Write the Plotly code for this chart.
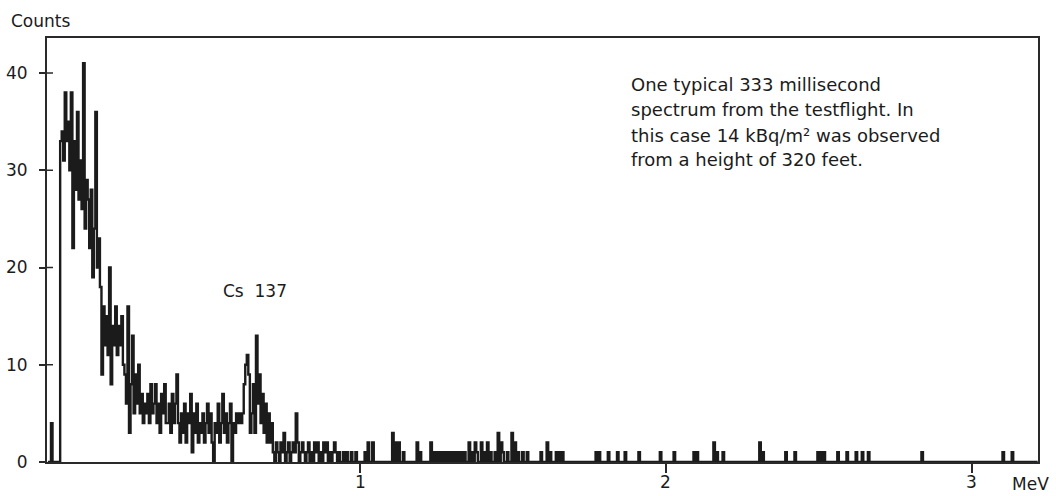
import plotly.graph_objects as go

# ---------------- data ----------------
CHANNEL_WIDTH = 0.005          # MeV per channel
START_ENERGY = -0.02           # energy of first listed channel (MeV)
END_ENERGY = 3.215

# counts per channel from -0.02 MeV up to 1.0 MeV
low_energy_counts = [
    0, 0, 4, 0,
    0, 0, 0, 0,
    33, 34, 31, 38, 33, 35, 30, 38,
    22, 33, 28,
    36, 27, 31, 26, 41, 24, 29, 27,
    22, 28, 19, 24, 36, 20, 23, 18,
    9, 16, 12, 15, 11,
    20, 8, 14, 12, 16, 11, 14, 12, 15, 10,
    9, 6, 16, 3, 8, 13, 5, 9, 6, 10, 5,
    7, 4, 6, 5, 7, 4, 8, 5, 6, 8, 4, 6, 3, 7, 5, 8, 4,
    4, 6, 3, 7, 4, 6, 9, 4, 2,
    5, 3, 6, 2, 5, 4, 7, 1, 5, 3, 6, 2, 4,
    3, 5, 2, 4, 6, 3, 5, 2, 0, 4, 3, 6, 2, 4, 7, 3, 5, 2, 4, 6, 0, 4, 3, 5, 4, 5,
    4, 5, 8, 10, 11, 9, 3,
    5, 8, 3, 13, 6, 9, 4, 7, 3, 6, 2, 5, 2, 4,
    1, 0, 2, 1, 0, 2, 1, 3, 0, 1, 2, 0, 1,
    2, 1, 5, 2, 0,
    1, 2, 1, 0, 1, 2, 0, 1, 0, 2, 1, 2, 0, 1, 0, 2, 1, 2, 0, 1,
    0, 1, 2, 1, 0, 1, 0, 0, 1, 0, 1, 0, 0, 1, 0, 0, 1, 0, 0,
]

# sparse counts above 1 MeV (energy of channel, counts)
tail_energies = [
    1.016, 1.026, 1.042, 1.105, 1.114, 1.124, 1.141, 1.183, 1.193, 1.229,
    1.242, 1.252, 1.261, 1.271, 1.281, 1.291, 1.301, 1.310, 1.320, 1.330,
    1.340, 1.353, 1.363, 1.373, 1.382, 1.395, 1.405, 1.415, 1.425, 1.438,
    1.448, 1.458, 1.467, 1.480, 1.497, 1.507, 1.516, 1.529, 1.546, 1.588,
    1.608, 1.618, 1.641, 1.650, 1.660, 1.768, 1.778, 1.810, 1.840, 1.866,
    1.908, 1.980, 2.023, 2.088, 2.101, 2.154, 2.163, 2.183, 2.307, 2.317,
    2.392, 2.422, 2.497, 2.507, 2.516, 2.562, 2.592, 2.618, 2.641, 2.660,
    2.837, 3.098, 3.131,
]
tail_counts = [
    1, 2, 2, 3, 2, 2, 1, 2, 1, 2,
    1, 1, 1, 1, 1, 1, 1, 1, 1, 1,
    1, 2, 1, 2, 1, 2, 1, 2, 1, 1,
    3, 2, 1, 1, 3, 2, 1, 1, 1, 1,
    2, 1, 1, 1, 1, 1, 1, 1, 1, 1,
    1, 1, 1, 1, 1, 2, 1, 1, 2, 1,
    1, 1, 1, 1, 1, 1, 1, 1, 1, 1,
    1, 1, 1,
]

Y_TICKS = [0, 10, 20, 30, 40]
X_TICKS = [1, 2, 3]
X_TICK_LABELS = ["1", "2", "3"]

NOTE_LINES = [
    "One typical 333 millisecond",
    "spectrum from the testflight. In",
    "this case 14 kBq/m² was observed",
    "from a height of 320 feet.",
]

# ---------------- build histogram ----------------
n_channels = int(round((END_ENERGY - START_ENERGY) / CHANNEL_WIDTH))
counts = [0] * n_channels
for i, c in enumerate(low_energy_counts):
    counts[i] = c
for e, c in zip(tail_energies, tail_counts):
    idx = int(round((e - START_ENERGY) / CHANNEL_WIDTH))
    if 0 <= idx < n_channels:
        counts[idx] = max(counts[idx], c)

edges = [START_ENERGY + CHANNEL_WIDTH * k for k in range(n_channels + 1)]
ys = counts + [counts[-1]]

INK = "#1b1b1b"
FRAME = "#2a2a2a"
FONT = "DejaVu Sans"

fig = go.Figure()
fig.add_trace(go.Scatter(
    x=edges, y=ys, mode="lines", line_shape="hv",
    line=dict(color=INK, width=2.4), hoverinfo="skip", showlegend=False,
))

X_RANGE = [-0.023, 3.216]
Y_RANGE = [0, 43.6]

fig.update_layout(
    width=1056, height=496,
    margin=dict(l=47, r=18, t=38, b=34),
    paper_bgcolor="white", plot_bgcolor="white",
    font=dict(family=FONT, size=17, color=INK),
    xaxis=dict(
        range=X_RANGE, showgrid=False, zeroline=False, automargin=False,
        showline=True, linecolor=FRAME, linewidth=2, mirror=True,
        tickmode="array", tickvals=X_TICKS, showticklabels=False,
        ticks="outside", ticklen=9, tickwidth=1.5, tickcolor=FRAME,
    ),
    yaxis=dict(
        range=Y_RANGE, showgrid=False, zeroline=False, automargin=False,
        showline=True, linecolor=FRAME, linewidth=2, mirror=True,
        tickmode="array", tickvals=Y_TICKS,
        ticks="outside", ticklen=6, tickwidth=1.5, tickcolor=FRAME,
        ticklabelstandoff=8,
        tickfont=dict(family=FONT, size=17, color=INK),
    ),
)

# inner half of the crossing y ticks
for v in Y_TICKS[1:]:
    fig.add_shape(type="line", xref="paper", yref="y",
                  x0=0, x1=6 / 991, y0=v, y1=v,
                  line=dict(color=FRAME, width=1.5))

# x tick labels placed just below the ticks
for v, lab in zip(X_TICKS, X_TICK_LABELS):
    fig.add_annotation(text=lab, xref="x", yref="paper",
                       x=v, y=(462 - 482) / 424,
                       xanchor="center", yanchor="middle", showarrow=False,
                       font=dict(family=FONT, size=17, color=INK))

# axis titles / labels
fig.add_annotation(text="Counts", xref="paper", yref="paper",
                   x=(9 - 47) / 991, y=(462 - 21) / 424,
                   xanchor="left", yanchor="middle", showarrow=False,
                   font=dict(family=FONT, size=17, color=INK))
fig.add_annotation(text="MeV", xref="paper", yref="paper",
                   x=(1010 - 47) / 991, y=(462 - 484) / 424,
                   xanchor="left", yanchor="middle", showarrow=False,
                   font=dict(family=FONT, size=17, color=INK))
fig.add_annotation(text="Cs  137", xref="x", yref="y",
                   x=0.547, y=17.6, xanchor="left", yanchor="middle",
                   showarrow=False, font=dict(family=FONT, size=17, color=INK))

line_centers_px = [85, 110, 135, 159]
for txt, py in zip(NOTE_LINES, line_centers_px):
    fig.add_annotation(text=txt, xref="paper", yref="paper",
                       x=(629 - 47) / 991, y=(462 - py) / 424,
                       xanchor="left", yanchor="middle", showarrow=False,
                       font=dict(family=FONT, size=18, color=INK))

fig.write_html("out.html")
